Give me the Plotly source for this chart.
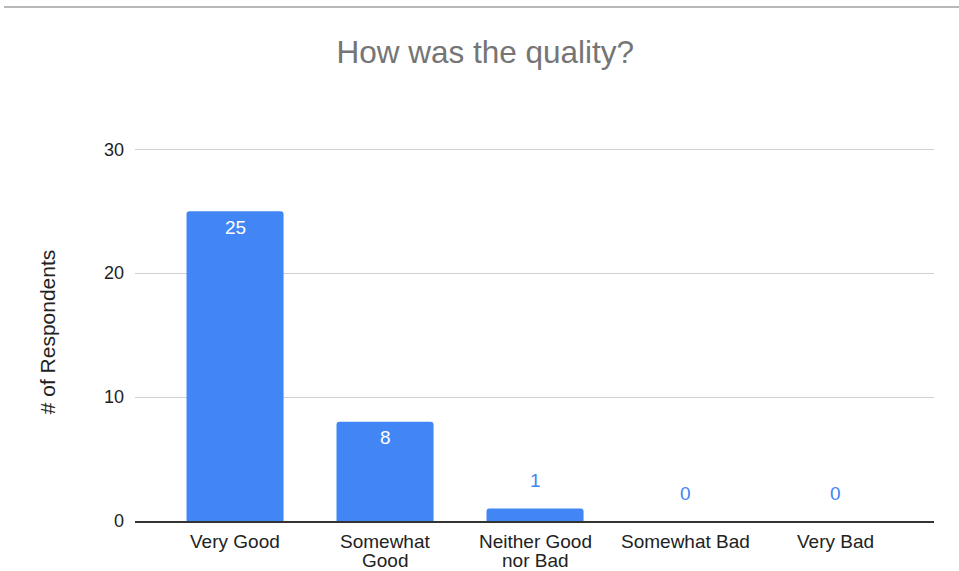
import plotly.graph_objects as go

categories = ["Very Good", "Somewhat Good", "Neither Good nor Bad", "Somewhat Bad", "Very Bad"]
tick_lines = [["Very Good"], ["Somewhat", "Good"], ["Neither Good", "nor Bad"], ["Somewhat Bad"], ["Very Bad"]]
values = [25, 8, 1, 0, 0]
y_ticks = [0, 10, 20, 30]

BLUE = "#4285F4"
FONT = "Arial, 'Liberation Sans', sans-serif"

fig = go.Figure()
fig.add_trace(go.Bar(
    x=categories, y=values, marker=dict(color=BLUE, line=dict(width=0)),
    hoverinfo="skip",
))

annotations = []
for c, v in zip(categories, values):
    inside = v >= 3
    annotations.append(dict(
        x=c, y=v, xref="x", yref="y", text=str(v), showarrow=False,
        yshift=-16 if inside else 28,
        font=dict(family=FONT, size=19, color="white" if inside else BLUE),
    ))
# category labels (tight line spacing)
for c, lines in zip(categories, tick_lines):
    for i, line in enumerate(lines):
        annotations.append(dict(
            x=c, y=0, xref="x", yref="y", text=line, showarrow=False,
            yanchor="middle", yshift=-20 - 19 * i,
            font=dict(family=FONT, size=19, color="#222222"),
        ))

fig.update_layout(
    width=959, height=571,
    margin=dict(l=135, r=25, t=143, b=50, autoexpand=False),
    paper_bgcolor="white", plot_bgcolor="white",
    bargap=0.353, barcornerradius=3,
    showlegend=False,
    title=dict(text="How was the quality?", x=0.506, xanchor="center", y=0.909, yanchor="middle",
               font=dict(family=FONT, size=31.5, color="#757575")),
    font=dict(family=FONT, size=19, color="#222222"),
    xaxis=dict(range=[-0.667, 4.66], showgrid=False, showline=True, linecolor="#333333", linewidth=1.5,
               ticks="", automargin=False, showticklabels=False, fixedrange=True),
    yaxis=dict(range=[0, 30.5], tickvals=y_ticks, showgrid=True, gridcolor="#d0d0d0", gridwidth=1,
               zeroline=False, showline=False, ticks="", ticklabelstandoff=10, automargin=False,
               tickfont=dict(family=FONT, size=18, color="#222222"),
               title=dict(text="# of Respondents", standoff=42, font=dict(family=FONT, size=21, color="#222222"))),
    annotations=annotations,
    shapes=[dict(type="line", xref="paper", yref="paper", x0=-0.164, x1=1.04, y0=1.3598, y1=1.3598,
                 line=dict(color="#b8b8b8", width=2))],
)

fig.write_html("out.html")
